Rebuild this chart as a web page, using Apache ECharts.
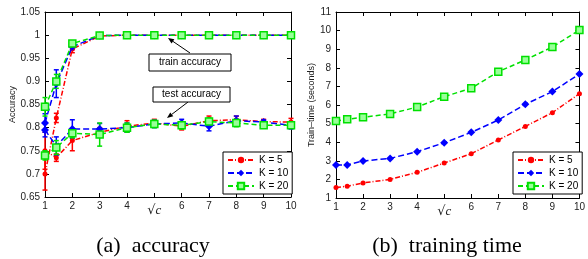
<!DOCTYPE html>
<html>
<head>
<meta charset="utf-8">
<script src="https://cdn.jsdelivr.net/npm/echarts@6/dist/echarts.min.js"></script>
<style>
  html, body { margin: 0; padding: 0; background: #fff; }
  #chart { width: 588px; height: 259px; }
</style>
</head>
<body>
<div id="chart"></div>
<script>
// x positions (sqrt(c)): 1, sqrt(2), 2 ... 10
const xs = [1, 1.414, 2, 3, 4, 5, 6, 7, 8, 9, 10];

// (a) accuracy
const trainK5 = [0.700, 0.821, 0.970, 0.998, 1.0, 1.0, 1.0, 1.0, 1.0, 1.0, 1.0];
const trainK10 = [0.810, 0.895, 0.975, 0.999, 1.0, 1.0, 1.0, 1.0, 1.0, 1.0, 1.0];
const trainK20 = [0.845, 0.900, 0.982, 0.999, 1.0, 1.0, 1.0, 1.0, 1.0, 1.0, 1.0];
const trainErrK5 = [0.035, 0.010, 0.008, 0.003, 0.002, 0.002, 0.002, 0.002, 0.002, 0.002, 0.002];
const trainErrK10 = [0.020, 0.030, 0.006, 0.003, 0.002, 0.002, 0.002, 0.002, 0.002, 0.002, 0.002];
const trainErrK20 = [0.020, 0.015, 0.005, 0.003, 0.002, 0.002, 0.002, 0.002, 0.002, 0.002, 0.002];

const testK5 = [0.750, 0.735, 0.772, 0.790, 0.803, 0.810, 0.803, 0.815, 0.817, 0.813, 0.812];
const testK10 = [0.795, 0.760, 0.797, 0.797, 0.800, 0.808, 0.810, 0.803, 0.815, 0.812, 0.805];
const testK20 = [0.740, 0.757, 0.788, 0.785, 0.800, 0.808, 0.805, 0.813, 0.810, 0.805, 0.805];
const testErrK5 = [0.040, 0.008, 0.022, 0.010, 0.012, 0.008, 0.008, 0.010, 0.008, 0.005, 0.008];
const testErrK10 = [0.015, 0.020, 0.020, 0.012, 0.010, 0.008, 0.008, 0.010, 0.010, 0.005, 0.008];
const testErrK20 = [0.010, 0.015, 0.010, 0.025, 0.010, 0.008, 0.008, 0.008, 0.008, 0.005, 0.005];

// (b) training time (seconds)
const timeK5 = [1.57, 1.63, 1.81, 2.00, 2.38, 2.88, 3.38, 4.12, 4.85, 5.59, 6.61];
const timeK10 = [2.77, 2.78, 2.99, 3.13, 3.49, 3.97, 4.53, 5.19, 6.04, 6.72, 7.67];
const timeK20 = [5.14, 5.23, 5.34, 5.52, 5.89, 6.45, 6.90, 7.79, 8.42, 9.12, 10.03];

const legendNames = ['K = 5', 'K = 10', 'K = 20'];
const colors = ['#ff0000', '#0000ff', '#00e000'];
const dashes = [[5, 2, 1, 2], [6, 3], [5, 3]];
const symbols = ['circle', 'diamond', 'rect'];
const symbolSizes = [5, 8, 7];

const pairs = (ys) => xs.map((x, i) => [x, ys[i]]);
const errData = (ys, es) => xs.map((x, i) => [x, ys[i] - es[i], ys[i] + es[i]]);

const lineSeries = (k, ys, xi, yi) => ({
    name: legendNames[k],
    type: 'line',
    xAxisIndex: xi,
    yAxisIndex: yi,
    data: pairs(ys),
    symbol: symbols[k],
    symbolSize: symbolSizes[k],
    color: colors[k],
    lineStyle: { width: 1.5, type: dashes[k], color: colors[k] },
    itemStyle: k === 2 ? { color: '#9f9', borderColor: colors[k], borderWidth: 1.5 } : { color: colors[k] },
    animation: false,
    z: 3 + k
});

const errSeries = (k, ys, es) => ({
    name: 'err' + k,
    type: 'custom',
    xAxisIndex: 0,
    yAxisIndex: 0,
    data: errData(ys, es),
    animation: false,
    z: 2 + k,
    renderItem: (params, api) => {
        const lo = api.coord([api.value(0), api.value(1)]);
        const hi = api.coord([api.value(0), api.value(2)]);
        const c = 2.5;
        const st = { stroke: colors[k], lineWidth: 1.5 };
        return {
            type: 'group',
            children: [
                { type: 'line', shape: { x1: lo[0], y1: lo[1], x2: hi[0], y2: hi[1] }, style: st },
                { type: 'line', shape: { x1: lo[0] - c, y1: lo[1], x2: lo[0] + c, y2: lo[1] }, style: st },
                { type: 'line', shape: { x1: hi[0] - c, y1: hi[1], x2: hi[0] + c, y2: hi[1] }, style: st }
            ]
        };
    }
});

const arrow = (x1, y1, x2, y2) => {
    const dx = x2 - x1, dy = y2 - y1;
    const len = Math.sqrt(dx * dx + dy * dy);
    const ux = dx / len, uy = dy / len;
    const bx = x2 - ux * 6, by = y2 - uy * 6;
    return [
        { type: 'line', shape: { x1: x1, y1: y1, x2: bx, y2: by }, style: { stroke: '#000', lineWidth: 1 }, z: 20 },
        { type: 'polygon', shape: { points: [[x2, y2], [bx - uy * 2.5, by + ux * 2.5], [bx + uy * 2.5, by - ux * 2.5]] }, style: { fill: '#000' }, z: 20 }
    ];
};

const labelBox = (x, y, w, h, text) => [
    { type: 'rect', shape: { x: x, y: y, width: w, height: h }, style: { fill: '#fff', stroke: '#000', lineWidth: 1 }, z: 20 },
    { type: 'text', x: x + w / 2, y: y + h / 2, style: { text: text, fill: '#000', font: '10px "Liberation Sans", Arial, sans-serif', align: 'center', verticalAlign: 'middle' }, z: 21 }
];

const axisFont = { fontFamily: '"Liberation Sans", Arial, sans-serif', fontSize: 10, color: '#222' };

const xAxisBase = (gi) => ({
    gridIndex: gi,
    type: 'value',
    min: 1, max: 10, interval: 1,
    axisLine: { onZero: false, lineStyle: { color: '#000', width: 1 } },
    axisTick: { inside: true, length: 4, lineStyle: { color: '#000' } },
    splitLine: { show: false },
    axisLabel: {
        ...axisFont,
        margin: 4,
        formatter: (v) => v === 5 ? '{s|√}{c|c}' : String(v),
        rich: {
            s: { fontSize: 13, fontFamily: 'DejaVu Serif, serif', color: '#222', padding: [3, 0, 0, 0] },
            c: { fontSize: 13, fontFamily: '"Liberation Serif", serif', fontStyle: 'italic', color: '#222', padding: [3, 0, 0, 0] }
        }
    }
});

const topAxis = (gi, min, max, interval) => ({
    gridIndex: gi, type: 'value', position: 'top', min: min, max: max, interval: interval,
    axisLine: { onZero: false, lineStyle: { color: '#000' } },
    axisTick: { inside: true, length: 4, lineStyle: { color: '#000' } },
    axisLabel: { show: false }, splitLine: { show: false }
});

const rightAxis = (gi, min, max, interval) => ({
    gridIndex: gi, type: 'value', position: 'right', min: min, max: max, interval: interval,
    axisLine: { onZero: false, lineStyle: { color: '#000' } },
    axisTick: { inside: true, length: 4, lineStyle: { color: '#000' } },
    axisLabel: { show: false }, splitLine: { show: false }
});

const legendBase = (left) => ({
    data: legendNames.map(n => ({ name: n })),
    orient: 'vertical',
    left: left,
    top: 152,
    itemWidth: 26,
    itemHeight: 8,
    itemGap: 3,
    padding: [3, 4, 3, 4],
    borderColor: '#000',
    borderWidth: 1,
    backgroundColor: '#fff',
    selectedMode: false,
    textStyle: { fontFamily: '"Liberation Sans", Arial, sans-serif', fontSize: 10, color: '#000' },
    z: 30
});

const chart = echarts.init(document.getElementById('chart'), null, { renderer: 'canvas' });

const option = {
    backgroundColor: '#fff',
    animation: false,
    grid: [
        { left: 45, top: 12, width: 246, height: 185 },
        { left: 336, top: 12, width: 246, height: 186 }
    ],
    xAxis: [
        xAxisBase(0),
        xAxisBase(1),
        topAxis(0, 1, 10, 1),
        topAxis(1, 1, 10, 1)
    ],
    yAxis: [
        {
            gridIndex: 0, type: 'value', min: 0.65, max: 1.05, interval: 0.05,
            name: 'Accuracy', nameLocation: 'middle', nameGap: 27,
            nameTextStyle: { fontFamily: '"Liberation Sans", Arial, sans-serif', fontSize: 9, color: '#222' },
            axisLine: { onZero: false, lineStyle: { color: '#000' } },
            axisTick: { inside: true, length: 4, lineStyle: { color: '#000' } },
            splitLine: { show: false },
            axisLabel: { ...axisFont, margin: 5 }
        },
        {
            gridIndex: 1, type: 'value', min: 1, max: 11, interval: 1,
            name: 'Train\u2013time (seconds)', nameLocation: 'middle', nameGap: 20,
            nameTextStyle: { fontFamily: '"Liberation Sans", Arial, sans-serif', fontSize: 9, color: '#222' },
            axisLine: { onZero: false, lineStyle: { color: '#000' } },
            axisTick: { inside: true, length: 4, lineStyle: { color: '#000' } },
            splitLine: { show: false },
            axisLabel: { ...axisFont, margin: 5 }
        },
        rightAxis(0, 0.65, 1.05, 0.05),
        rightAxis(1, 1, 11, 1)
    ],
    legend: [legendBase(223), legendBase(513)],
    series: [
        errSeries(0, trainK5, trainErrK5),
        errSeries(0, testK5, testErrK5),
        errSeries(1, trainK10, trainErrK10),
        errSeries(1, testK10, testErrK10),
        errSeries(2, trainK20, trainErrK20),
        errSeries(2, testK20, testErrK20),
        lineSeries(0, trainK5, 0, 0),
        lineSeries(0, testK5, 0, 0),
        lineSeries(1, trainK10, 0, 0),
        lineSeries(1, testK10, 0, 0),
        lineSeries(2, trainK20, 0, 0),
        lineSeries(2, testK20, 0, 0),
        lineSeries(0, timeK5, 1, 1),
        lineSeries(1, timeK10, 1, 1),
        lineSeries(2, timeK20, 1, 1)
    ],
    graphic: [
        ...arrow(190, 53, 168, 38),
        ...labelBox(149, 54, 82, 17, 'train accuracy'),
        ...arrow(188, 102, 167, 118),
        ...labelBox(153, 87, 77, 15, 'test accuracy'),
        {
            type: 'text', x: 153, y: 246,
            style: { text: '(a)  accuracy', fill: '#000', font: '22px "Liberation Serif", "Times New Roman", serif', align: 'center', verticalAlign: 'middle' }
        },
        {
            type: 'text', x: 447, y: 246,
            style: { text: '(b)  training time', fill: '#000', font: '22px "Liberation Serif", "Times New Roman", serif', align: 'center', verticalAlign: 'middle' }
        }
    ]
};

option && chart.setOption(option);
</script>
</body>
</html>
